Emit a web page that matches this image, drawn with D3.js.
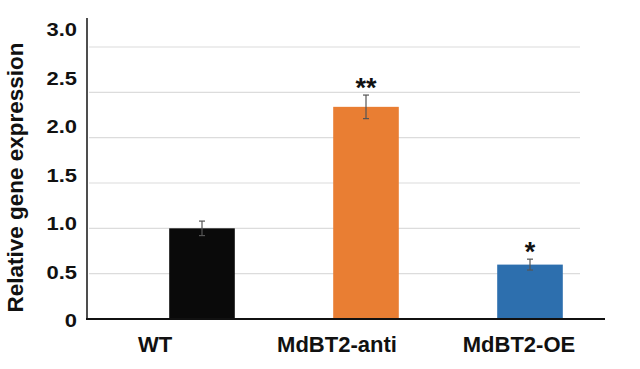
<!DOCTYPE html>
<html>
<head>
<meta charset="utf-8">
<script src="https://cdn.jsdelivr.net/npm/d3@7"></script>
<style>
  body { margin: 0; background: #fff; }
  svg { display: block; font-family: "Liberation Sans", Arial, sans-serif; font-weight: bold; }
</style>
</head>
<body>
<div id="chart"></div>
<script>
// data
const categories = ["WT", "MdBT2-anti", "MdBT2-OE"];
const values = [1.0, 2.34, 0.6];
const errors = [0.08, 0.13, 0.06];
const stars = ["", "**", "*"];
const barColors = ["#0a0a0a", "#e97e33", "#2d6fae"];
const yTicks = [0, 0.5, 1.0, 1.5, 2.0, 2.5, 3.0];
const yTickLabels = ["0", "0.5", "1.0", "1.5", "2.0", "2.5", "3.0"];

const W = 640, H = 369;

const svg = d3.select("#chart").append("svg")
  .attr("width", W)
  .attr("height", H);

// scales
const x = d3.scaleBand().domain(categories).range([120, 612]).paddingInner(0.6).paddingOuter(0.3);
const y = d3.scaleLinear().domain([0, 3]).range([319, 47]);
// tick text in the figure sits on a slightly wider spacing than the grid
const yLab = d3.scaleLinear().domain([0, 3]).range([320.5, 30]);
const xLab = d3.scalePoint().domain(categories).range([155, 519]);

// gridlines
svg.append("g")
  .selectAll("line")
  .data(yTicks.filter(d => d > 0))
  .join("line")
  .attr("x1", 89).attr("x2", 580)
  .attr("y1", d => y(d)).attr("y2", d => y(d))
  .attr("stroke", "#dcdcdc")
  .attr("stroke-width", 1.2);

// bars
const data = categories.map((c, i) => ({ c, v: values[i], e: errors[i], s: stars[i], col: barColors[i] }));

svg.append("g")
  .selectAll("rect")
  .data(data)
  .join("rect")
  .attr("x", d => x(d.c))
  .attr("y", d => y(d.v))
  .attr("width", x.bandwidth())
  .attr("height", d => y(0) - y(d.v))
  .attr("fill", d => d.col);

// error bars
const eb = svg.append("g").attr("stroke", "#555").attr("stroke-width", 1.2);
data.forEach(d => {
  const cx = x(d.c) + x.bandwidth() / 2;
  eb.append("line").attr("x1", cx).attr("x2", cx).attr("y1", y(d.v + d.e)).attr("y2", y(d.v - d.e));
  eb.append("line").attr("x1", cx - 3).attr("x2", cx + 3).attr("y1", y(d.v + d.e)).attr("y2", y(d.v + d.e));
  eb.append("line").attr("x1", cx - 3).attr("x2", cx + 3).attr("y1", y(d.v - d.e)).attr("y2", y(d.v - d.e));
});

// significance stars
svg.append("g")
  .selectAll("text")
  .data(data.filter(d => d.s))
  .join("text")
  .attr("x", d => x(d.c) + x.bandwidth() / 2)
  .attr("y", d => y(d.v + d.e) + 2)
  .attr("text-anchor", "middle")
  .attr("font-size", 27)
  .attr("fill", "#111")
  .text(d => d.s);

// axes lines
svg.append("line")
  .attr("x1", 87).attr("x2", 87)
  .attr("y1", 18).attr("y2", y(0))
  .attr("stroke", "#222").attr("stroke-width", 1.6);
svg.append("line")
  .attr("x1", 86).attr("x2", 605)
  .attr("y1", y(0)).attr("y2", y(0))
  .attr("stroke", "#111").attr("stroke-width", 1.8);

// y tick labels (horizontally stretched like the source)
svg.append("g")
  .selectAll("text")
  .data(yTicks)
  .join("text")
  .attr("transform", d => `translate(77,${yLab(d)}) scale(1.22,1)`)
  .attr("dy", "0.36em")
  .attr("text-anchor", "end")
  .attr("font-size", 18)
  .attr("fill", "#111")
  .text((d, i) => yTickLabels[i]);

// x labels
svg.append("g")
  .selectAll("text")
  .data(categories)
  .join("text")
  .attr("x", d => xLab(d))
  .attr("y", 352)
  .attr("text-anchor", "middle")
  .attr("font-size", 22)
  .attr("fill", "#111")
  .text(d => d);

// y title
svg.append("text")
  .attr("transform", "translate(23,177.5) rotate(-90)")
  .attr("text-anchor", "middle")
  .attr("font-size", 22.5)
  .attr("fill", "#111")
  .text("Relative gene expression");
</script>
</body>
</html>
